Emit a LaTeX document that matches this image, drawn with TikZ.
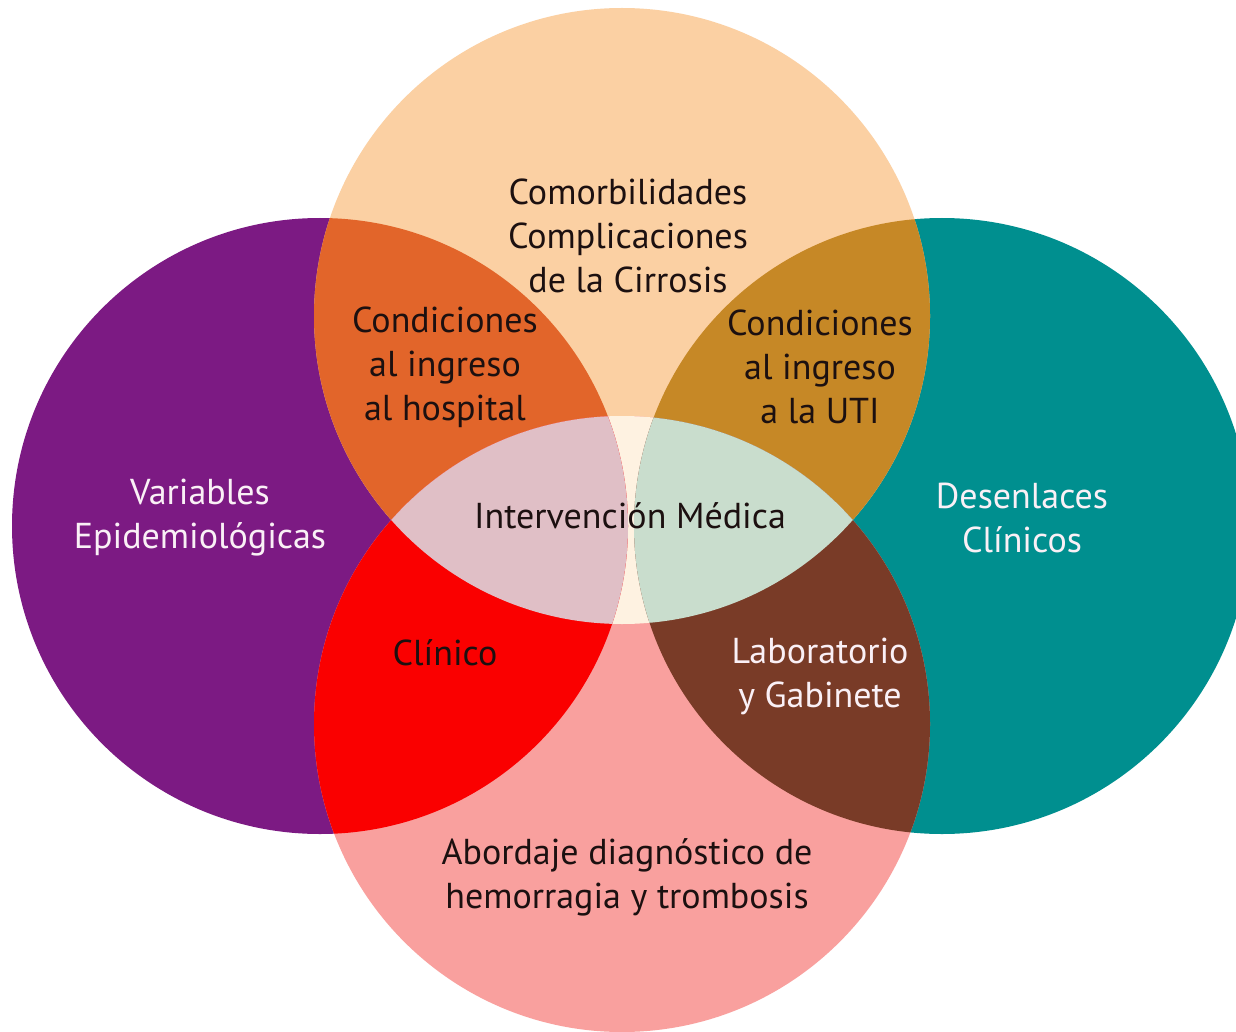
\documentclass[tikz,border=0pt]{standalone}
\usepackage{fontspec}
\setmainfont{PT Sans}
\usepackage{tikz}

\definecolor{epiPurple}{RGB}{124,26,131}
\definecolor{desTeal}{RGB}{0,143,143}
\definecolor{comPeach}{RGB}{251,208,163}
\definecolor{aboPink}{RGB}{249,160,158}
\definecolor{hospOrange}{RGB}{226,101,42}
\definecolor{utiGold}{RGB}{198,136,38}
\definecolor{cliRed}{RGB}{250,0,0}
\definecolor{labBrown}{RGB}{121,59,39}
\definecolor{medLilac}{RGB}{224,191,198}
\definecolor{medMint}{RGB}{201,221,205}
\definecolor{medCream}{RGB}{254,242,225}
\definecolor{txtDark}{RGB}{28,16,16}
\definecolor{txtLight}{RGB}{250,240,246}

% the four sets
\def\setEpi{(320,526) circle [radius=308]}
\def\setDes{(942,526) circle [radius=308]}
\def\setCom{(622,316) circle [radius=308]}
\def\setAbo{(622,724) circle [radius=308]}

\tikzset{
  lbl/.style={align=center, inner sep=0.75pt, text=txtDark,
    font=\fontsize{18}{22}\selectfont},
  lblw/.style={lbl, text=txtLight},
}

\begin{document}
\begin{tikzpicture}[x=0.5pt,y=0.5pt,yscale=-1,xscale=1]
\useasboundingbox (0,0) rectangle (1236,1032);
\fill[white] (0,0) rectangle (1236,1032);

% circles
\fill[epiPurple] \setEpi;
\fill[desTeal] \setDes;
\fill[comPeach] \setCom;
\fill[aboPink] \setAbo;

% overlaps with the top circle
\begin{scope}
  \clip \setCom;
  \fill[hospOrange] \setEpi;
  \fill[utiGold] \setDes;
  \fill[medCream] \setAbo;
\end{scope}

% overlaps with the bottom circle
\begin{scope}
  \clip \setAbo;
  \fill[cliRed] \setEpi;
  \fill[labBrown] \setDes;
\end{scope}

% middle lens
\begin{scope}
  \clip \setCom;
  \clip \setAbo;
  \fill[medLilac] \setEpi;
  \fill[medMint] \setDes;
\end{scope}

% labels
\node[lbl] (com) at (628,236) {Comorbilidades\\Complicaciones\\de la Cirrosis};
\node[lbl] (hosp) at (445,367) {Condiciones\\al ingreso\\al hospital};
\node[lbl] (uti) at (820,367) {Condiciones\\al ingreso\\a la UTI};
\node[lblw] (epi) at (200,518) {Variables\\Epidemiológicas};
\node[lblw] (des) at (1022,518) {Desenlaces\\Clínicos};
\node[lbl] (med) at (630,516) {Intervención Médica};
\node[lbl] (cli) at (445,653) {Clínico};
\node[lblw] (lab) at (820,676) {Laboratorio\\y Gabinete};
\node[lbl] (abo) at (627,877) {Abordaje diagnóstico de\\hemorragia y trombosis};

\end{tikzpicture}
\end{document}
